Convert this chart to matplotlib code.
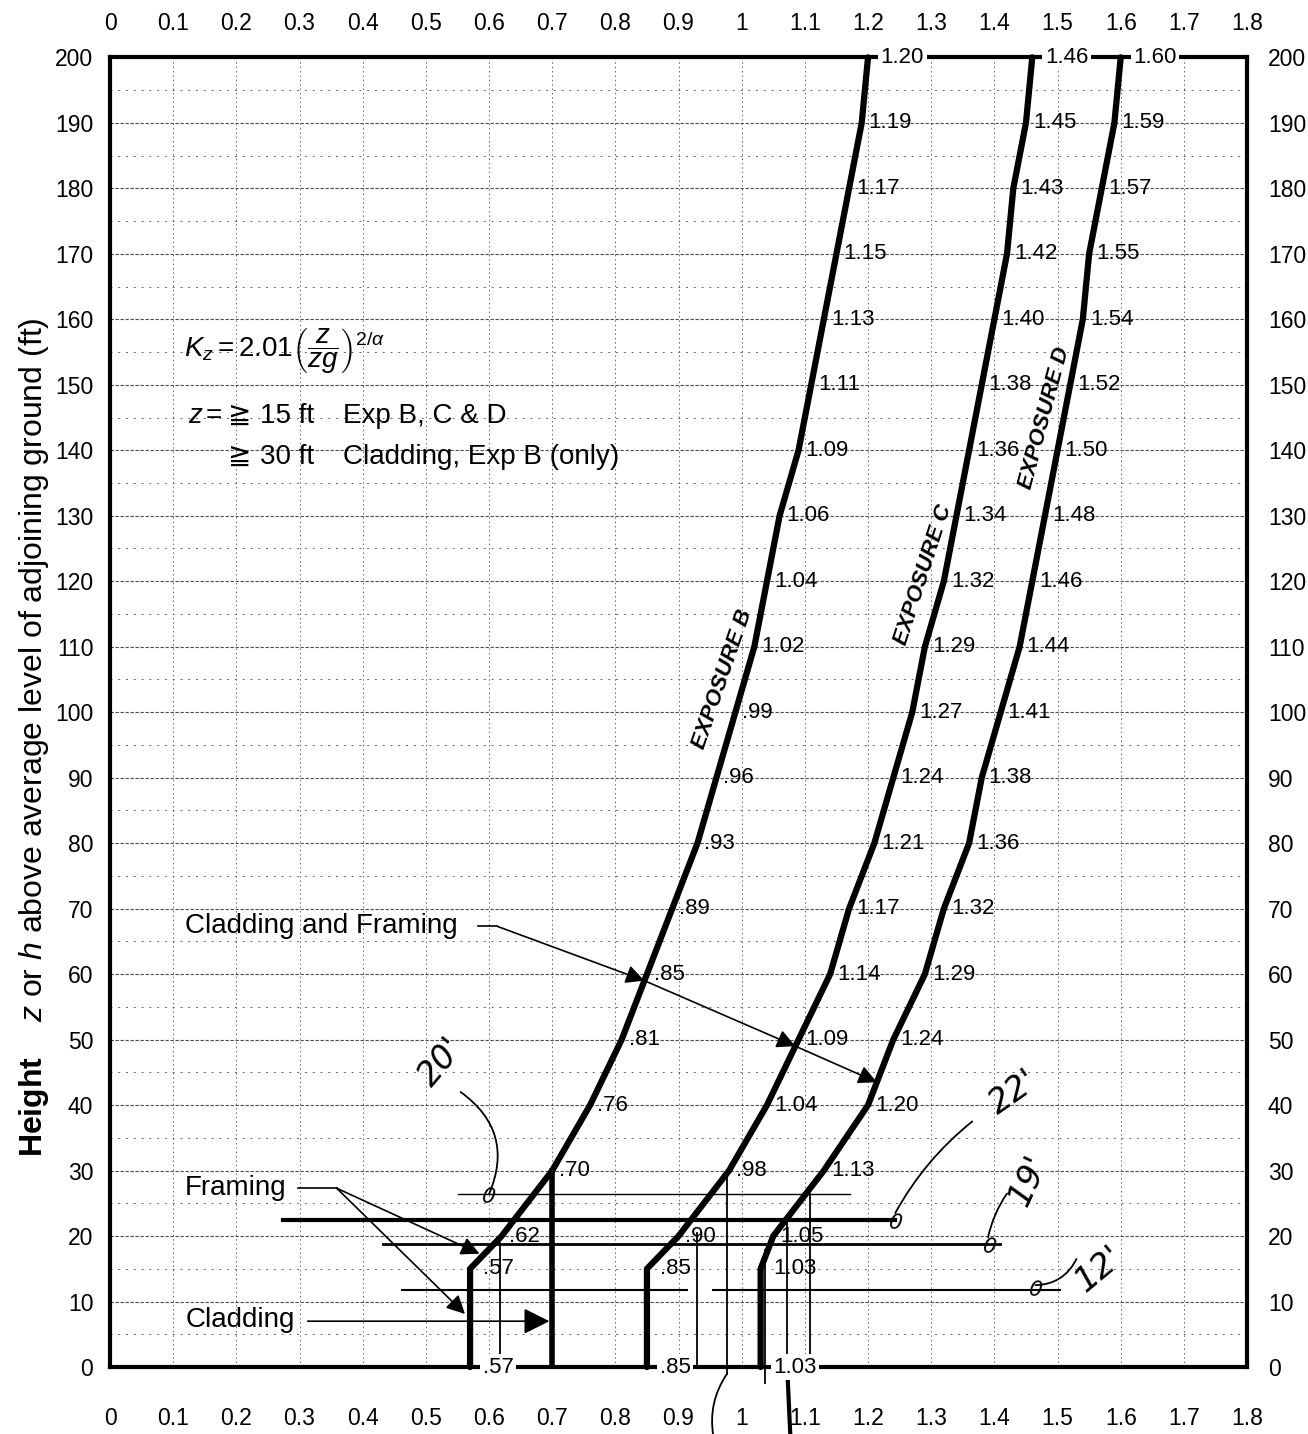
import matplotlib
matplotlib.use("Agg")
import matplotlib.pyplot as plt
from matplotlib import font_manager
import numpy as np

# Kz values, one per labelled height (ft)
heights = [0, 15, 20, 30, 40, 50, 60, 70, 80, 90, 100,
           110, 120, 130, 140, 150, 160, 170, 180, 190, 200]
kz_b = [0.57, 0.57, 0.62, 0.70, 0.76, 0.81, 0.85, 0.89, 0.93, 0.96, 0.99,
        1.02, 1.04, 1.06, 1.09, 1.11, 1.13, 1.15, 1.17, 1.19, 1.20]
kz_c = [0.85, 0.85, 0.90, 0.98, 1.04, 1.09, 1.14, 1.17, 1.21, 1.24, 1.27,
        1.29, 1.32, 1.34, 1.36, 1.38, 1.40, 1.42, 1.43, 1.45, 1.46]
kz_d = [1.03, 1.03, 1.05, 1.13, 1.20, 1.24, 1.29, 1.32, 1.36, 1.38, 1.41,
        1.44, 1.46, 1.48, 1.50, 1.52, 1.54, 1.55, 1.57, 1.59, 1.60]
exposure_names = ["EXPOSURE B", "EXPOSURE C", "EXPOSURE D"]

x_ticks = np.round(np.arange(0, 1.81, 0.1), 1)
x_tick_labels = ["0", "0.1", "0.2", "0.3", "0.4", "0.5", "0.6", "0.7", "0.8",
                 "0.9", "1", "1.1", "1.2", "1.3", "1.4", "1.5", "1.6", "1.7", "1.8"]
y_ticks = list(range(0, 201, 10))

# ruler lines drawn over the printed chart (height, x from, x to)
guide_y = [22.5, 18.8, 11.8, 11.8, 26.4]
guide_x0 = [0.274, 0.432, 0.462, 0.955, 0.551]
guide_x1 = [1.243, 1.409, 0.913, 1.504, 1.171]
# vertical drop lines (x, y from, y to)
drop_x = [0.617, 0.929, 0.977, 1.037, 1.072, 1.108]
drop_y0 = [0, 0, -1, -2.5, 0, 0]
drop_y1 = [18.9, 20.5, 29.5, 17.9, 22.4, 26.4]

names = {f.name for f in font_manager.fontManager.ttflist}
narrow = "Liberation Sans Narrow" if "Liberation Sans Narrow" in names else "Liberation Sans"
plt.rcParams["font.family"] = ["Liberation Sans", "DejaVu Sans"]
plt.rcParams["mathtext.fontset"] = "custom"
plt.rcParams["mathtext.rm"] = "Liberation Sans"
plt.rcParams["mathtext.it"] = "Liberation Sans:italic"
plt.rcParams["mathtext.bf"] = "Liberation Sans:bold"

fig = plt.figure(figsize=(13.08, 14.34), dpi=100)
ax = fig.add_axes([0.0841, 0.0467, 0.8693, 0.9133])
ax.set_xlim(0, 1.8)
ax.set_ylim(0, 200)

ax.set_xticks(x_ticks)
ax.set_xticklabels(x_tick_labels)
ax.set_yticks(y_ticks)
ax.set_yticks(np.arange(5, 200, 10), minor=True)
ax.tick_params(axis="both", which="both", length=0, labelsize=16.5)
ax.tick_params(axis="x", pad=29)
ax.tick_params(axis="y", pad=12)

top = ax.secondary_xaxis("top")
top.set_xticks(x_ticks)
top.set_xticklabels(x_tick_labels)
top.tick_params(length=0, labelsize=16.5, pad=16)
right = ax.secondary_yaxis("right")
right.set_yticks(y_ticks)
right.tick_params(length=0, labelsize=16.5, pad=15)
for sec in (top, right):
    for sp in sec.spines.values():
        sp.set_visible(False)

ax.grid(axis="x", which="major", color="0.4", lw=0.7, ls=(0, (1.5, 3)))
ax.grid(axis="y", which="major", color="0.3", lw=0.8, ls=(0, (3, 1.5)))
ax.grid(axis="y", which="minor", color="0.4", lw=0.7, ls=(0, (2, 6)))
for sp in ax.spines.values():
    sp.set_linewidth(3)

curves = [kz_b, kz_c, kz_d]
for kz in curves:
    ax.plot(kz, heights, color="black", lw=4.5, solid_capstyle="round",
            solid_joinstyle="round", clip_on=False, zorder=4)
    for h, v in zip(heights, kz):
        txt = f"{v:.2f}".lstrip("0")
        if h in (0, 200):
            ax.text(v + 0.02, h, txt, fontsize=16, family=narrow, ha="left",
                    va="center", zorder=5,
                    bbox=dict(fc="white", ec="none", pad=2))
        else:
            off = 0.02 if h == 15 else 0.011
            ax.text(v + off, h, txt, fontsize=16, family=narrow, ha="left",
                    va="center", zorder=5)

# exposure labels along each curve
label_h = [105, 121, 145]
label_rot = [71, 72, 75]
label_shift = [-0.035, -0.035, -0.03]
for kz, name, h, rot, dx in zip(curves, exposure_names, label_h, label_rot, label_shift):
    ax.text(np.interp(h, heights, kz) + dx, h, name, rotation=rot,
            rotation_mode="anchor", ha="center", va="center", fontsize=16,
            fontweight="bold", style="italic", zorder=5)

# formula and notes
ax.text(0.1175, 155.2, r"$K_z = 2.01\left(\dfrac{z}{zg}\right)^{2/\alpha}$",
        fontsize=20, ha="left", va="center")
note = dict(fontsize=20, ha="left", va="center")
ax.text(0.1235, 145.2, "z", style="italic", **note)
ax.text(0.1520, 145.2, "=", **note)
ax.text(0.187, 145.2, "\u2267", family="DejaVu Sans", **note)
ax.text(0.2375, 145.2, "15 ft", **note)
ax.text(0.369, 145.2, "Exp B, C & D", **note)
ax.text(0.187, 139.0, "\u2267", family="DejaVu Sans", **note)
ax.text(0.2375, 139.0, "30 ft", **note)
ax.text(0.369, 139.0, "Cladding, Exp B (only)", **note)

fig.text(0.026, 0.486,
         r"$\mathbf{Height}$    $z$ or $h$ above average level of adjoining ground (ft)",
         rotation=90, ha="center", va="center", fontsize=23, family=narrow)

# ruler lines and drop lines
guide_lw = [3, 2, 1.5, 1.5, 1]
for y, x0, x1, lw in zip(guide_y, guide_x0, guide_x1, guide_lw):
    ax.plot([x0, x1], [y, y], color="black", lw=lw, zorder=3)
for x, y0, y1 in zip(drop_x, drop_y0, drop_y1):
    ax.plot([x, x], [y0, y1], color="black", lw=1.3, zorder=3, clip_on=False)
clad_x = np.interp(30, heights, kz_b)
ax.plot([clad_x, clad_x], [0, 30], color="black", lw=4, zorder=4)

arrow = dict(arrowstyle="-|>", color="black", lw=1.2, mutation_scale=28,
             shrinkA=0, shrinkB=0)

# Cladding and Framing
ax.text(0.119, 67.3, "Cladding and Framing", fontsize=20, ha="left", va="center")
start = (0.613, 67.3)
ax.plot([0.583, start[0]], [67.3, 67.3], color="black", lw=1.2)
prev = start
for kz, h in zip(curves, [59, 49, 43.5]):
    tgt = (np.interp(h, heights, kz), h)
    ax.annotate("", xy=tgt, xytext=prev, arrowprops=arrow, zorder=6)
    prev = tgt

# Framing
ax.text(0.119, 27.3, "Framing", fontsize=20, ha="left", va="center")
ax.plot([0.298, 0.359], [27.3, 27.3], color="black", lw=1.2)
for h in [17.3, 8.1]:
    tgt = (np.interp(h, heights, kz_b) - 0.008, h)
    ax.annotate("", xy=tgt, xytext=(0.359, 27.3), arrowprops=arrow, zorder=6)

# Cladding
ax.text(0.119, 7.2, "Cladding", fontsize=20, ha="left", va="center")
ax.annotate("", xy=(clad_x, 7.0), xytext=(0.313, 7.0),
            arrowprops=dict(arrowstyle="-|>", color="black", lw=1.2,
                            mutation_scale=40, shrinkA=0, shrinkB=2), zorder=6)

# handwritten notes
hand = dict(fontsize=24, style="italic", family="DejaVu Sans", color="black",
            ha="center", va="center", fontweight="light")
ax.text(0.525, 46.5, "20'", rotation=50, **hand)
ax.text(1.43, 42.0, "22'", rotation=35, **hand)
ax.text(1.455, 28.5, "19'", rotation=65, **hand)
ax.text(1.565, 15.0, "12'", rotation=40, **hand)
stroke = dict(arrowstyle="-", color="black", lw=1.3, shrinkA=0, shrinkB=0)
ax.annotate("", xy=(0.60, 26.4), xytext=(0.555, 42),
            arrowprops=dict(stroke, connectionstyle="arc3,rad=-0.4"))
ax.annotate("", xy=(1.243, 23.5), xytext=(1.365, 37.5),
            arrowprops=dict(stroke, connectionstyle="arc3,rad=0.1"))
ax.annotate("", xy=(1.39, 19.8), xytext=(1.42, 26.5),
            arrowprops=dict(stroke, connectionstyle="arc3,rad=0.1"))
ax.annotate("", xy=(1.465, 12.5), xytext=(1.53, 16.5),
            arrowprops=dict(stroke, connectionstyle="arc3,rad=-0.3"))
for x, y in [(0.60, 26.0), (1.243, 22.0), (1.392, 18.3), (1.465, 11.8)]:
    ax.text(x, y, "0", fontsize=15, style="italic", family="DejaVu Sans",
            ha="center", va="center", rotation=-10)
ax.annotate("", xy=(0.955, -10.5), xytext=(0.977, -1),
            arrowprops=dict(stroke, connectionstyle="arc3,rad=0.2"),
            annotation_clip=False)
ax.plot([1.072, 1.077], [0, -10.5], color="black", lw=3, clip_on=False)

fig.savefig("out.png", dpi=100)
